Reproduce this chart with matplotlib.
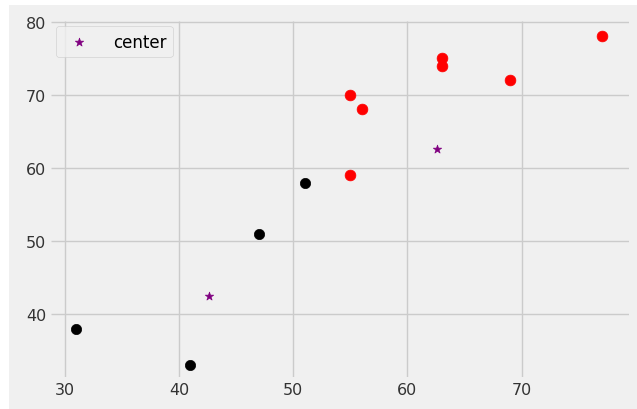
import matplotlib
matplotlib.use("Agg")
import matplotlib.pyplot as plt
from matplotlib.patches import Rectangle

plt.style.use("fivethirtyeight")

# cluster 1 (black)
black_x = [31, 41, 47, 51]
black_y = [38, 33, 51, 58]

# cluster 2 (red)
red_x = [55, 56, 55, 63, 63, 69, 77]
red_y = [70, 68, 59, 75, 74, 72, 78]

# centers
center_x = [42.6, 62.6]
center_y = [42.5, 62.6]

fig = plt.figure(figsize=(6.37, 4.10), dpi=100)
fig.patch.set_facecolor("white")
fig.patches.append(Rectangle((9 / 637, 0), 1, (410 - 6) / 410,
                             transform=fig.transFigure, facecolor="#f0f0f0",
                             edgecolor="none", zorder=-5))
ax = fig.add_axes([51 / 637, 32 / 410, 578 / 637, 356 / 410])
ax.set_facecolor("#f0f0f0")

ax.scatter(black_x, black_y, c="black", s=55, zorder=3)
ax.scatter(red_x, red_y, c="red", s=60, zorder=3)
ax.scatter(center_x, center_y, c="purple", marker="*", s=40, label="center", zorder=3)

ax.set_xlim(28.8, 79.4)
ax.set_ylim(31.4, 80.1)
ax.set_xticks([30, 40, 50, 60, 70])
ax.set_yticks([40, 50, 60, 70, 80])
ax.tick_params(labelsize=11.5, colors="#333333")
ax.grid(True, color="#cbcbcb", linewidth=1.0)
for s in ax.spines.values():
    s.set_visible(False)

ax.legend(loc="upper left", fontsize=12, borderaxespad=0.3, handletextpad=1.0)

fig.savefig("out.png", dpi=100, facecolor=fig.get_facecolor())
